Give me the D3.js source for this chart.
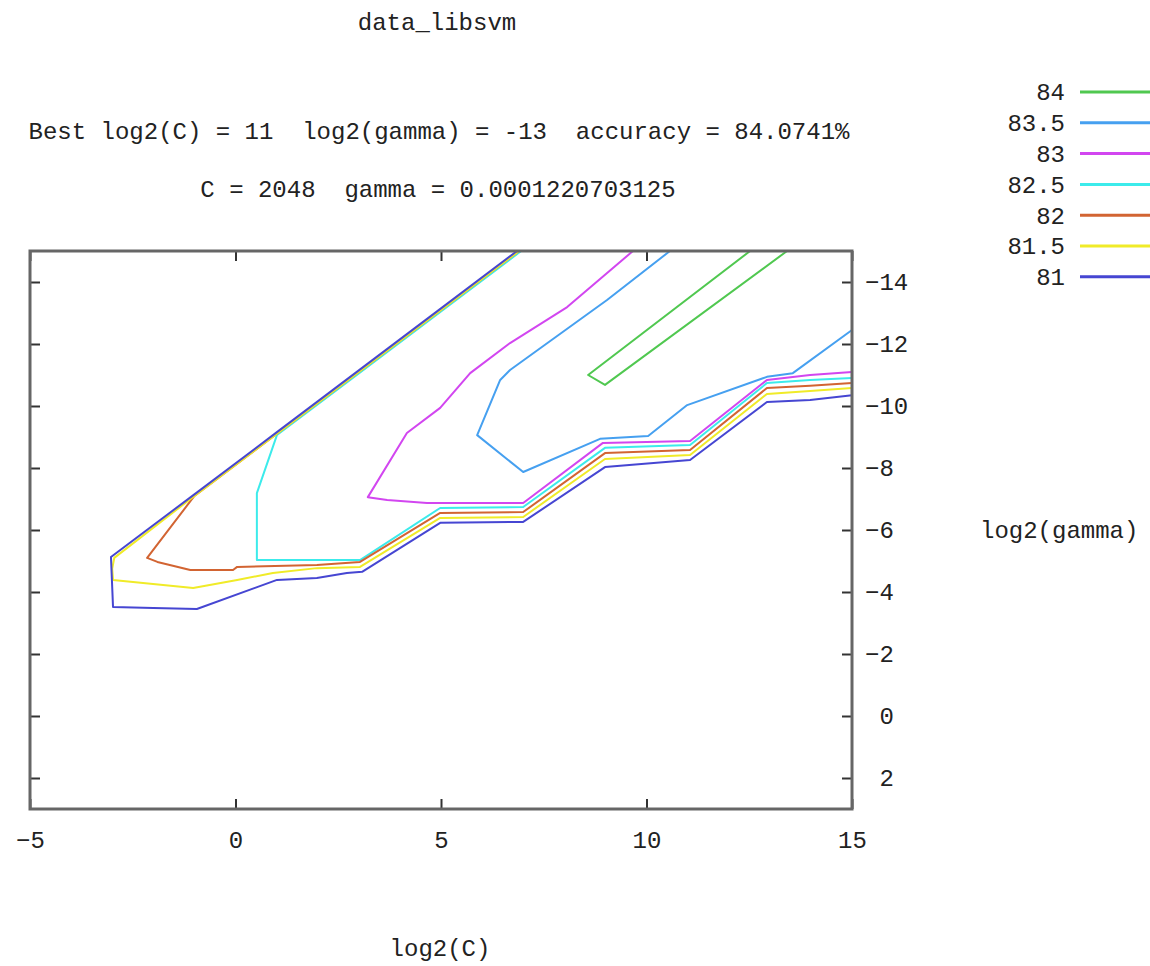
<!DOCTYPE html>
<html>
<head>
<meta charset="utf-8">
<script src="https://cdn.jsdelivr.net/npm/d3@7"></script>
<style>
  body { margin: 0; background: #fff; }
  svg text { font-family: "Liberation Mono", "DejaVu Sans Mono", monospace; font-size: 24px; fill: #222; white-space: pre; }
</style>
</head>
<body>
<svg width="1150" height="966"></svg>
<script>
const levels = ["84", "83.5", "83", "82.5", "82", "81.5", "81"];
const colors = ["#50c850", "#46a0f0", "#d246f0", "#3cebeb", "#d26432", "#f0eb28", "#4646d2"];

const xTicks = [-5, 0, 5, 10, 15];
const yTicks = [-14, -12, -10, -8, -6, -4, -2, 0, 2];

// contour lines, [log2(C), log2(gamma)]
const line84 = [[12.52, -15], [8.58, -11.0], [8.99, -10.68], [13.42, -15]];
const line835 = [[10.57, -15], [9.04, -13.42], [6.68, -11.16], [6.44, -10.84], [5.88, -9.06], [7, -7.87],
  [8.87, -8.94], [10.04, -9.03], [10.99, -10.03], [12.93, -10.94], [13.56, -11.06], [15, -12.45]];
const line83 = [[9.67, -15], [8.07, -13.19], [6.68, -12.03], [5.71, -11.06], [4.98, -9.94], [4.17, -9.13],
  [3.22, -7.06], [3.69, -6.97], [4.66, -6.87], [7, -6.87], [8.94, -8.81], [11.06, -8.87], [12.93, -10.84],
  [13.98, -11.0], [15, -11.1]];
const line825 = [[6.95, -15], [5, -13.05], [3, -11.05], [1.01, -9.07], [0.52, -7.19], [0.52, -5.03],
  [3.03, -5.03], [4.98, -6.71], [7, -6.74], [8.99, -8.65], [11.06, -8.74], [12.93, -10.74], [13.98, -10.84],
  [15, -10.9]];
const line82 = [[6.9, -15], [5, -13.1], [3, -11.1], [1, -9.1], [-1, -7.1], [-2.15, -5.1], [-1.9, -4.97],
  [-1.1, -4.71], [-0.06, -4.71], [0.04, -4.81], [1.98, -4.87], [3.03, -4.97], [4.98, -6.55], [7, -6.58],
  [8.99, -8.48], [11.06, -8.58], [12.93, -10.58], [13.98, -10.65], [15, -10.74]];
const line815 = [[6.9, -15], [5, -13.1], [3, -11.1], [1, -9.1], [-1, -7.1], [-2.95, -5.1], [-3, -4.75],
  [-2.98, -4.39], [-2.25, -4.29], [-1.03, -4.13], [0.04, -4.39], [0.91, -4.61], [1.98, -4.77], [3.03, -4.81],
  [4.98, -6.39], [7, -6.42], [8.99, -8.29], [11.06, -8.42], [12.93, -10.39], [13.98, -10.48], [15, -10.58]];
const line81 = [[6.85, -15], [5, -13.15], [3, -11.15], [1, -9.15], [-1, -7.15], [-3.03, -5.13], [-2.98, -3.52],
  [-2.0, -3.48], [-0.94, -3.45], [1.01, -4.39], [1.98, -4.45], [2.71, -4.61], [3.08, -4.65], [4.98, -6.23],
  [7.0, -6.26], [8.99, -8.03], [11.06, -8.26], [12.93, -10.13], [13.98, -10.19], [15, -10.35]];

const contourLines = [line84, line835, line83, line825, line82, line815, line81];

const svg = d3.select("svg");
const area = { left: 30, right: 852, top: 251, bottom: 809 };

const scaleX = d3.scaleLinear().domain([-5, 15]).range([area.left, area.right]);
const scaleY = d3.scaleLinear().domain([-15, 3]).range([area.top, area.bottom]);

// titles
svg.append("text").attr("x", 437).attr("y", 30).attr("text-anchor", "middle").text("data_libsvm");
svg.append("text").attr("x", 439).attr("y", 139).attr("text-anchor", "middle")
  .text("Best log2(C) = 11  log2(gamma) = -13  accuracy = 84.0741%");
svg.append("text").attr("x", 438).attr("y", 197).attr("text-anchor", "middle")
  .text("C = 2048  gamma = 0.0001220703125");

// contours
const line = d3.line().x((d) => scaleX(d[0])).y((d) => scaleY(d[1]));
svg.append("g")
  .selectAll("path")
  .data(contourLines)
  .enter()
  .append("path")
  .attr("d", line)
  .attr("fill", "none")
  .attr("stroke", (d, i) => colors[i])
  .attr("stroke-width", 2)
  .attr("stroke-linejoin", "round");

// axes with inward ticks on every side
function styleAxis(g) {
  g.select(".domain").remove();
  g.selectAll(".tick line").attr("stroke", "#333").attr("stroke-width", 2);
  g.selectAll(".tick text").attr("fill", "#222");
}

svg.append("g")
  .attr("transform", `translate(0, ${area.bottom})`)
  .call(d3.axisBottom(scaleX).tickValues(xTicks).tickSize(-10).tickPadding(22))
  .call(styleAxis)
  .selectAll("text").style("font-size", "24px").style("font-family", null);

svg.append("g")
  .attr("transform", `translate(0, ${area.top})`)
  .call(d3.axisTop(scaleX).tickValues(xTicks).tickSize(-10).tickFormat(""))
  .call(styleAxis);

svg.append("g")
  .attr("transform", `translate(${area.right}, 0)`)
  .call(d3.axisRight(scaleY).tickValues(yTicks).tickSize(-10).tickPadding(13)
    .tickFormat((d) => (d < 0 ? "\u2212" + -d : "\u00a0" + d)))
  .call(styleAxis)
  .selectAll("text").style("font-size", "24px").style("font-family", null);

svg.append("g")
  .attr("transform", `translate(${area.left}, 0)`)
  .call(d3.axisLeft(scaleY).tickValues(yTicks).tickSize(-10).tickFormat(""))
  .call(styleAxis);

svg.append("rect")
  .attr("x", area.left)
  .attr("y", area.top)
  .attr("width", area.right - area.left)
  .attr("height", area.bottom - area.top)
  .attr("fill", "none")
  .attr("stroke", "#666")
  .attr("stroke-width", 3);

// axis labels
svg.append("text").attr("x", 440).attr("y", 956).attr("text-anchor", "middle").text("log2(C)");
svg.append("text").attr("x", 980).attr("y", 538).text("log2(gamma)");

// key
const key = svg.append("g")
  .selectAll("g")
  .data(levels)
  .enter()
  .append("g")
  .attr("transform", (d, i) => `translate(0, ${92 + i * 30.8})`);

key.append("text")
  .attr("x", 1065)
  .attr("dy", "0.35em")
  .attr("text-anchor", "end")
  .text((d) => d);

key.append("line")
  .attr("x1", 1080)
  .attr("x2", 1150)
  .attr("stroke", (d, i) => colors[i])
  .attr("stroke-width", 3);
</script>
</body>
</html>
